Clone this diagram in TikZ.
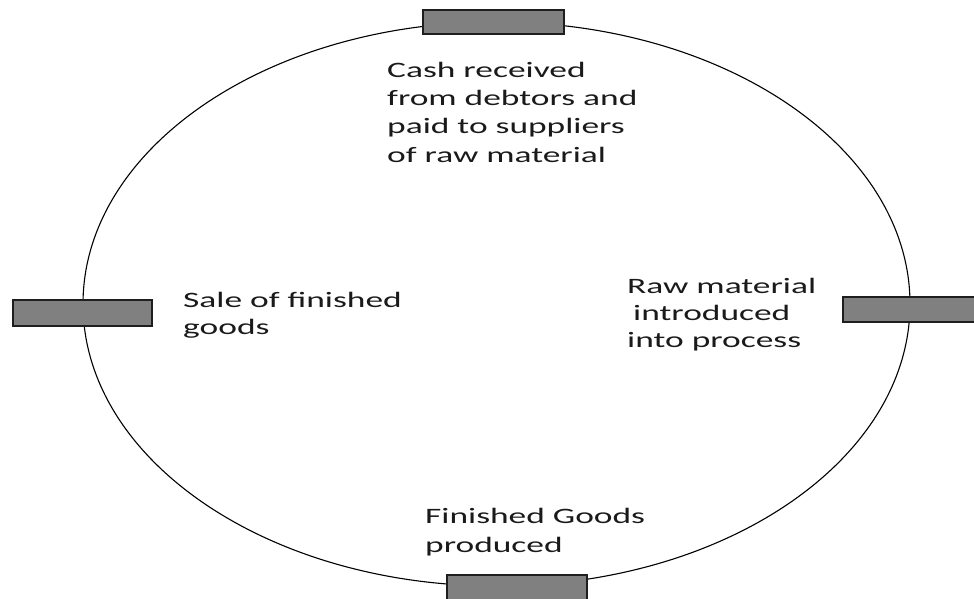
\documentclass[tikz,border=0pt]{standalone}
\usepackage{fontspec}
\setmainfont{Carlito}
\definecolor{barfill}{HTML}{808080}
\definecolor{barline}{HTML}{1E1E1E}
\definecolor{inktext}{HTML}{1A1A1A}
\newcommand{\widetext}[1]{\scalebox{1.61}[1]{#1}}
\tikzset{
  cycleline/.style={draw=black, line width=1.1pt},
  bar/.style={draw=barline, fill=barfill, line width=2.4pt},
  lbl/.style={anchor=base west, inner sep=0pt, text=inktext,
    font=\fontsize{22}{28}\selectfont},
}
\begin{document}
\begin{tikzpicture}[x=1pt, y=-1pt]
  \useasboundingbox (0,0) rectangle (974,599);
  % the cycle
  \draw[cycleline] (496.5,304) ellipse [x radius=413.5, y radius=282];
  % stage markers on the cycle
  \draw[bar] (423,10) rectangle (564,34);
  \draw[bar] (13,300) rectangle (152,326);
  \draw[bar] (843,297) rectangle (980,322);
  \draw[bar] (447,575) rectangle (587,605);
  % labels
  \node[lbl] (c1) at (387,78)  {\widetext{Cash received}};
  \node[lbl] (c2) at (387,106) {\widetext{from debtors and}};
  \node[lbl] (c3) at (387,134) {\widetext{paid to suppliers}};
  \node[lbl] (c4) at (387,162) {\widetext{of raw material}};
  \node[lbl] (s1) at (183,307) {\widetext{Sale of finished}};
  \node[lbl] (s2) at (183,334) {\widetext{goods}};
  \node[lbl] (r1) at (627,293) {\widetext{Raw material}};
  \node[lbl] (r2) at (633,320) {\widetext{introduced}};
  \node[lbl] (r3) at (627,347) {\widetext{into process}};
  \node[lbl] (f1) at (425,523) {\widetext{Finished Goods}};
  \node[lbl] (f2) at (425,552) {\widetext{produced}};
\end{tikzpicture}
\end{document}
